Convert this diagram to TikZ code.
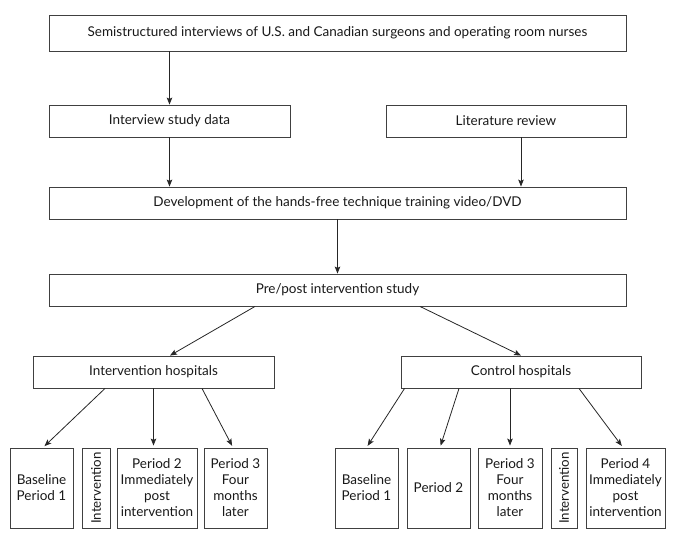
\documentclass[tikz,border=0pt]{standalone}
\usepackage{fontspec}
\setmainfont{Lato}
\usetikzlibrary{arrows.meta}
\tikzset{
  box/.style={draw=black!75, line width=0.9pt, inner sep=0pt, align=center, text=black!90,
    font=\fontsize{13.5}{16}\selectfont},
  vtext/.style={rotate=90, font=\fontsize{13.3}{16}\selectfont, text=black!90, inner sep=0pt},
  arr/.style={draw=black!85, line width=0.8pt, -{Stealth[length=7pt,width=5.5pt,inset=1.5pt]}},
}
\begin{document}
\begin{tikzpicture}[x=1pt,y=-1pt]
\useasboundingbox (0,0) rectangle (678,539);
% top levels
\node[box, minimum width=577pt, minimum height=36pt] (top) at (337.5,33) {Semistructured interviews of U.S. and Canadian surgeons and operating room nurses};
\node[box, minimum width=241pt, minimum height=32pt] (ids) at (169.5,121) {Interview study data};
\node[box, minimum width=240pt, minimum height=32pt] (lit) at (506,121) {Literature review};
\node[box, minimum width=577pt, minimum height=32pt] (dev) at (337.5,203) {Development of the hands-free technique training video/DVD};
\node[box, minimum width=577pt, minimum height=32pt] (pp) at (337.5,290) {Pre/post intervention study};
\node[box, minimum width=241pt, minimum height=32pt] (ih) at (153.5,372) {Intervention hospitals};
\node[box, minimum width=240pt, minimum height=32pt] (ch) at (521,372) {Control hospitals};
% bottom left
\node[box, minimum width=63pt, minimum height=80pt] (L1) at (41.5,488) {Baseline\\Period 1};
\node[box, minimum width=28pt, minimum height=80pt] (L2) at (96,488) {};
\node[vtext] (L2t) at (L2.center) {Intervention};
\node[box, minimum width=80pt, minimum height=80pt] (L3) at (157,488) {Period 2\\Immediately\\post\\intervention};
\node[box, minimum width=63pt, minimum height=80pt] (L4) at (235.5,488) {Period 3\\Four\\months\\later};
% bottom right
\node[box, minimum width=63pt, minimum height=80pt] (R1) at (366.5,488) {Baseline\\Period 1};
\node[box, minimum width=63pt, minimum height=80pt] (R2) at (438.5,488) {Period 2};
\node[box, minimum width=64pt, minimum height=80pt] (R3) at (510,488) {Period 3\\Four\\months\\later};
\node[box, minimum width=26pt, minimum height=80pt] (R4) at (564,488) {};
\node[vtext] (R4t) at (R4.center) {Intervention};
\node[box, minimum width=79pt, minimum height=80pt] (R5) at (625.5,488) {Period 4\\Immediately\\post\\intervention};
% connectors
\draw[arr] (top.south -| ids.north) -- (ids.north);
\draw[arr] (ids.south) -- (ids.south |- dev.north);
\draw[arr] ([xshift=15pt]lit.south) -- ([xshift=15pt]lit.south |- dev.north);
\draw[arr] (dev.south) -- (pp.north);
\draw[arr] ([xshift=-82.5pt]pp.south) -- ([xshift=16.5pt]ih.north);
\draw[arr] ([xshift=82.5pt]pp.south) -- (ch.north);
\draw[arr, shorten >=2pt] ([xshift=-48.5pt]ih.south) -- ([xshift=1.5pt]L1.north);
\draw[arr, shorten >=2pt] (ih.south) -- (ih.south |- L3.north);
\draw[arr, shorten >=2pt] ([xshift=48.5pt]ih.south) -- ([xshift=-2.5pt]L4.north);
\draw[arr, shorten >=2pt] ([xshift=4pt]ch.south west) -- (R1.north);
\draw[arr, shorten >=2pt] ([xshift=-62pt]ch.south) -- ([xshift=1.5pt]R2.north);
\draw[arr, shorten >=2pt] (R3.north |- ch.south) -- (R3.north);
\draw[arr, shorten >=2pt] ([xshift=58pt]ch.south) -- ([xshift=-2.5pt]R5.north);
\end{tikzpicture}
\end{document}
